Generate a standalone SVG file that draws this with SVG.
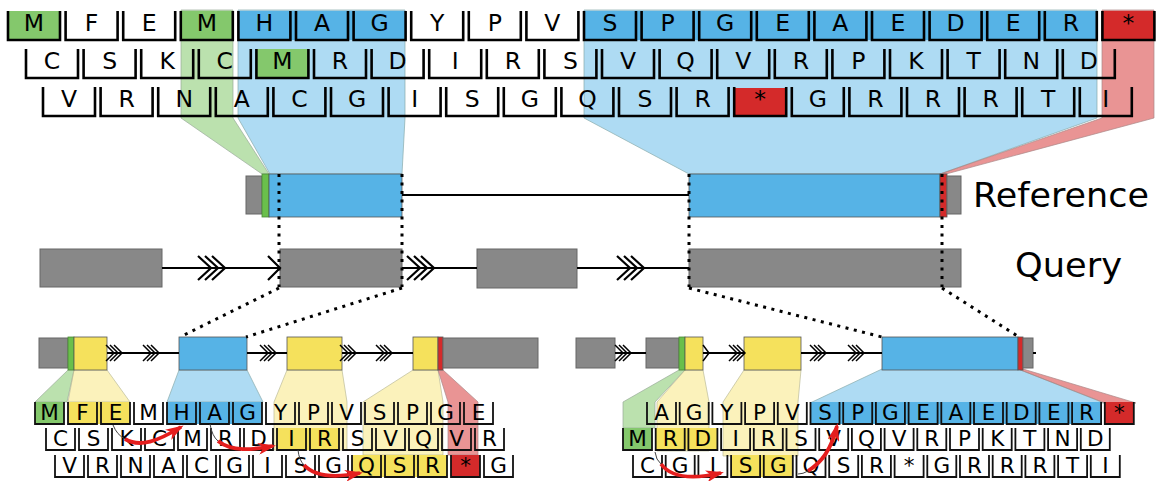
<svg xmlns="http://www.w3.org/2000/svg" xmlns:xlink="http://www.w3.org/1999/xlink" width="1163" height="481" viewBox="0 0 1163 481">
<style>
.t{font-family:"DejaVu Sans","Liberation Sans",sans-serif;font-size:23.5px;text-anchor:middle;fill:#000}
.s{font-family:"DejaVu Sans","Liberation Sans",sans-serif;font-size:21.5px;text-anchor:middle;fill:#000}
.lab{font-family:"DejaVu Sans","Liberation Sans",sans-serif;font-size:33px;fill:#000}
.bk{fill:none;stroke:#000;stroke-width:2.6}
.bs{fill:none;stroke:#111;stroke-width:1.8}
.bl{fill:#56b3e6}
.gn{fill:#84c86c}
.gs{fill:#6abf4b;stroke:#4a8a35;stroke-width:.8}
.rd{fill:#d42a2a}
.yl{fill:#f5e15c}
.gy{fill:#888;stroke:#666;stroke-width:1}
.box{stroke:#555;stroke-width:.8}
.ob{fill:#56b3e6;fill-opacity:.48;stroke:#8aa;stroke-width:.7}
.og{fill:#84c86c;fill-opacity:.55;stroke:#9a9;stroke-width:.7}
.or{fill:#d42a2a;fill-opacity:.5;stroke:#a88;stroke-width:.7}
.oy{fill:#f5e15c;fill-opacity:.42;stroke:#bb9;stroke-width:.7}
.ln{fill:none;stroke:#000;stroke-width:2.2}
.lns{fill:none;stroke:#000;stroke-width:1.8}
.ch{fill:none;stroke:#000;stroke-width:2.2}
.chs{fill:none;stroke:#000;stroke-width:1.5}
.dt{fill:none;stroke:#000;stroke-width:3;stroke-dasharray:3 5.5}
.ra{fill:none;stroke:#e41e1e;stroke-width:3.8;marker-end:url(#ah)}
.th{fill:none;stroke:#444;stroke-width:1}
</style>
<defs>
<marker id="ah" viewBox="0 0 18 12" refX="15" refY="6" markerWidth="18" markerHeight="12" markerUnits="userSpaceOnUse" orient="auto">
<path d="M0,0 L18,6 L0,12 L5,6 Z" fill="#e41e1e"/>
</marker>
<path id="c3" class="ch" d="M0,-12L13,0L0,12M7,-12L20,0L7,12M14,-12L27,0L14,12"/>
<path id="s3" class="chs" d="M0,-8L8,0L0,8M4,-8L12,0L4,8M8,-8L16,0L8,8"/>
</defs>

<g id="top-overlays">
<polygon class="og" points="181,10 233,10 233,118 269,174 262,174 181,118"/>
<polygon class="ob" points="238,10 405,10 405,118 402,174 270,174 238,118"/>
<polygon class="ob" points="584,10 1097,10 1097,118 940,174 689,174 584,118"/>
<polygon class="or" points="1102,10 1154,10 1154,118 946,174 940,174 1102,118"/>
</g>

<g id="top-row1">
<rect class="gn" x="8" y="11" width="52" height="29"/>
<rect class="gn" x="180.8" y="11" width="52" height="29"/>
<rect class="bl" x="238.4" y="11" width="167.2" height="29"/>
<rect class="bl" x="584" y="11" width="512.8" height="29"/>
<rect class="rd" x="1102.4" y="11" width="52" height="29"/>
<path class="bk" d="M8,11v29h52v-29M65.6,11v29h52v-29M123.2,11v29h52v-29M180.8,11v29h52v-29M238.4,11v29h52v-29M296,11v29h52v-29M353.6,11v29h52v-29M411.2,11v29h52v-29M468.8,11v29h52v-29M526.4,11v29h52v-29M584,11v29h52v-29M641.6,11v29h52v-29M699.2,11v29h52v-29M756.8,11v29h52v-29M814.4,11v29h52v-29M872,11v29h52v-29M929.6,11v29h52v-29M987.2,11v29h52v-29M1044.8,11v29h52v-29M1102.4,11v29h52v-29"/>
<text class="t" x="34" y="31">M</text><text class="t" x="91.6" y="31">F</text><text class="t" x="149.2" y="31">E</text><text class="t" x="206.8" y="31">M</text><text class="t" x="264.4" y="31">H</text><text class="t" x="322" y="31">A</text><text class="t" x="379.6" y="31">G</text><text class="t" x="437.2" y="31">Y</text><text class="t" x="494.8" y="31">P</text><text class="t" x="552.4" y="31">V</text><text class="t" x="610" y="31">S</text><text class="t" x="667.6" y="31">P</text><text class="t" x="725.2" y="31">G</text><text class="t" x="782.8" y="31">E</text><text class="t" x="840.4" y="31">A</text><text class="t" x="898" y="31">E</text><text class="t" x="955.6" y="31">D</text><text class="t" x="1013.2" y="31">E</text><text class="t" x="1070.8" y="31">R</text><text class="t" x="1128.4" y="31">*</text>
</g>

<g id="top-row2">
<rect class="gn" x="256.4" y="49" width="52" height="29"/>
<path class="bk" d="M26,49v29h52v-29M83.6,49v29h52v-29M141.2,49v29h52v-29M198.8,49v29h52v-29M256.4,49v29h52v-29M314,49v29h52v-29M371.6,49v29h52v-29M429.2,49v29h52v-29M486.8,49v29h52v-29M544.4,49v29h52v-29M602,49v29h52v-29M659.6,49v29h52v-29M717.2,49v29h52v-29M774.8,49v29h52v-29M832.4,49v29h52v-29M890,49v29h52v-29M947.6,49v29h52v-29M1005.2,49v29h52v-29M1062.8,49v29h52v-29"/>
<text class="t" x="52" y="69">C</text><text class="t" x="109.6" y="69">S</text><text class="t" x="167.2" y="69">K</text><text class="t" x="224.8" y="69">C</text><text class="t" x="282.4" y="69">M</text><text class="t" x="340" y="69">R</text><text class="t" x="397.6" y="69">D</text><text class="t" x="455.2" y="69">I</text><text class="t" x="512.8" y="69">R</text><text class="t" x="570.4" y="69">S</text><text class="t" x="628" y="69">V</text><text class="t" x="685.6" y="69">Q</text><text class="t" x="743.2" y="69">V</text><text class="t" x="800.8" y="69">R</text><text class="t" x="858.4" y="69">P</text><text class="t" x="916" y="69">K</text><text class="t" x="973.6" y="69">T</text><text class="t" x="1031.2" y="69">N</text><text class="t" x="1088.8" y="69">D</text>
</g>

<g id="top-row3">
<rect class="rd" x="734.2" y="88" width="52" height="27"/>
<path class="bk" d="M43,87v29h52v-29M100.6,87v29h52v-29M158.2,87v29h52v-29M215.8,87v29h52v-29M273.4,87v29h52v-29M331,87v29h52v-29M388.6,87v29h52v-29M446.2,87v29h52v-29M503.8,87v29h52v-29M561.4,87v29h52v-29M619,87v29h52v-29M676.6,87v29h52v-29M734.2,87v29h52v-29M791.8,87v29h52v-29M849.4,87v29h52v-29M907,87v29h52v-29M964.6,87v29h52v-29M1022.2,87v29h52v-29M1079.8,87v29h52v-29"/>
<text class="t" x="69" y="107">V</text><text class="t" x="126.6" y="107">R</text><text class="t" x="184.2" y="107">N</text><text class="t" x="241.8" y="107">A</text><text class="t" x="299.4" y="107">C</text><text class="t" x="357" y="107">G</text><text class="t" x="414.6" y="107">I</text><text class="t" x="472.2" y="107">S</text><text class="t" x="529.8" y="107">G</text><text class="t" x="587.4" y="107">Q</text><text class="t" x="645" y="107">S</text><text class="t" x="702.6" y="107">R</text><text class="t" x="760.2" y="107">*</text><text class="t" x="817.8" y="107">G</text><text class="t" x="875.4" y="107">R</text><text class="t" x="933" y="107">R</text><text class="t" x="990.6" y="107">R</text><text class="t" x="1048.2" y="107">T</text><text class="t" x="1105.8" y="107">I</text>
</g>

<g id="reference">
<rect class="gy" x="246" y="176" width="16" height="38"/>
<rect class="gs" x="262" y="174" width="7" height="43"/>
<rect class="bl box" x="269" y="174" width="133" height="43"/>
<rect class="bl box" x="689" y="174" width="251" height="43"/>
<rect class="rd box" x="940" y="174" width="7" height="43"/>
<rect class="gy" x="947" y="176" width="14" height="38"/>
<text class="lab" x="973" y="207" textLength="176" lengthAdjust="spacingAndGlyphs">Reference</text>
</g>

<g id="query">
<rect class="gy" x="40" y="249" width="122" height="38"/>
<rect class="gy" x="280" y="249" width="122" height="38"/>
<rect class="gy" x="477" y="249" width="100" height="39"/>
<rect class="gy" x="689" y="249" width="272" height="38"/>
<text class="lab" x="1015" y="277" textLength="107" lengthAdjust="spacingAndGlyphs">Query</text>
</g>

<g id="bottom-left-overlays">
<polygon class="og" points="68,370 74,370 67,402 35,402"/>
<polygon class="oy" points="74,370 107,370 130,402 68,402"/>
<polygon class="ob" points="179,370 247,370 263,402 167,402"/>
<polygon class="oy" points="287,370 342,370 347,402 347,450 274,450 274,402"/>
<polygon class="oy" points="413,370 438,370 443,402 443,455 363,455 363,402"/>
<polygon class="or" points="438,370 443,370 478,402 478,455 448,455 448,402"/>
</g>

<g id="bottom-left-gene">
<rect class="gy" x="39" y="338" width="29" height="30"/>
<rect class="gs" x="68" y="337" width="6" height="33"/>
<rect class="yl box" x="74" y="337" width="33" height="33"/>
<rect class="bl box" x="179" y="337" width="68" height="33"/>
<rect class="yl box" x="287" y="337" width="55" height="33"/>
<rect class="yl box" x="413" y="337" width="25" height="33"/>
<rect class="rd box" x="438" y="337" width="5" height="33"/>
<rect class="gy" x="443" y="338" width="95" height="30"/>
</g>

<g id="bottom-left-seq">
<rect class="gn" x="35" y="402" width="29" height="22"/>
<rect class="yl" x="68" y="402" width="62" height="22"/>
<rect class="bl" x="167" y="402" width="95" height="22"/>
<rect class="yl" x="277" y="428" width="62" height="22"/>
<rect class="yl" x="352" y="455" width="95" height="22"/>
<rect class="rd" x="451" y="455" width="29" height="22"/>
<path class="bs" d="M35,402v22h29v-22M68,402v22h29v-22M101,402v22h29v-22M134,402v22h29v-22M167,402v22h29v-22M200,402v22h29v-22M233,402v22h29v-22M266,402v22h29v-22M299,402v22h29v-22M332,402v22h29v-22M365,402v22h29v-22M398,402v22h29v-22M431,402v22h29v-22M464,402v22h29v-22"/>
<path class="bs" d="M46,428v22h29v-22M79,428v22h29v-22M112,428v22h29v-22M145,428v22h29v-22M178,428v22h29v-22M211,428v22h29v-22M244,428v22h29v-22M277,428v22h29v-22M310,428v22h29v-22M343,428v22h29v-22M376,428v22h29v-22M409,428v22h29v-22M442,428v22h29v-22M475,428v22h29v-22"/>
<path class="bs" d="M55,455v22h29v-22M88,455v22h29v-22M121,455v22h29v-22M154,455v22h29v-22M187,455v22h29v-22M220,455v22h29v-22M253,455v22h29v-22M286,455v22h29v-22M319,455v22h29v-22M352,455v22h29v-22M385,455v22h29v-22M418,455v22h29v-22M451,455v22h29v-22M484,455v22h29v-22"/>
<text class="s" x="49.5" y="420">M</text><text class="s" x="82.5" y="420">F</text><text class="s" x="115.5" y="420">E</text><text class="s" x="148.5" y="420">M</text><text class="s" x="181.5" y="420">H</text><text class="s" x="214.5" y="420">A</text><text class="s" x="247.5" y="420">G</text><text class="s" x="280.5" y="420">Y</text><text class="s" x="313.5" y="420">P</text><text class="s" x="346.5" y="420">V</text><text class="s" x="379.5" y="420">S</text><text class="s" x="412.5" y="420">P</text><text class="s" x="445.5" y="420">G</text><text class="s" x="478.5" y="420">E</text>
<text class="s" x="60.5" y="446">C</text><text class="s" x="93.5" y="446">S</text><text class="s" x="126.5" y="446">K</text><text class="s" x="159.5" y="446">C</text><text class="s" x="192.5" y="446">M</text><text class="s" x="225.5" y="446">R</text><text class="s" x="258.5" y="446">D</text><text class="s" x="291.5" y="446">I</text><text class="s" x="324.5" y="446">R</text><text class="s" x="357.5" y="446">S</text><text class="s" x="390.5" y="446">V</text><text class="s" x="423.5" y="446">Q</text><text class="s" x="456.5" y="446">V</text><text class="s" x="489.5" y="446">R</text>
<text class="s" x="69.5" y="473">V</text><text class="s" x="102.5" y="473">R</text><text class="s" x="135.5" y="473">N</text><text class="s" x="168.5" y="473">A</text><text class="s" x="201.5" y="473">C</text><text class="s" x="234.5" y="473">G</text><text class="s" x="267.5" y="473">I</text><text class="s" x="300.5" y="473">S</text><text class="s" x="333.5" y="473">G</text><text class="s" x="366.5" y="473">Q</text><text class="s" x="399.5" y="473">S</text><text class="s" x="432.5" y="473">R</text><text class="s" x="465.5" y="473">*</text><text class="s" x="498.5" y="473">G</text>
</g>

<g id="bottom-right-overlays">
<polygon class="og" points="679,370 685,370 655,402 655,428 623,428 623,402"/>
<polygon class="oy" points="685,370 703,370 709,402 709,451 657,451 657,402"/>
<polygon class="oy" points="744,370 801,370 798,402 798,456 723,456 723,402"/>
<polygon class="ob" points="882,369 1018,369 1104,403 810,403"/>
<polygon class="or" points="1018,369 1023,369 1136,403 1105,403"/>
</g>

<g id="bottom-right-gene">
<rect class="gy" x="576" y="338" width="39" height="30"/>
<rect class="gy" x="646" y="338" width="33" height="30"/>
<rect class="gs" x="679" y="337" width="6" height="33"/>
<rect class="yl box" x="685" y="337" width="18" height="33"/>
<rect class="yl box" x="744" y="337" width="57" height="33"/>
<rect class="bl box" x="882" y="337" width="136" height="33"/>
<rect class="rd box" x="1018" y="337" width="5" height="33"/>
<rect class="gy" x="1023" y="338" width="10" height="30"/>
</g>

<g id="bottom-right-seq">
<rect class="bl" x="810.5" y="402" width="290.6" height="22"/>
<rect class="rd" x="1104.8" y="402" width="29" height="22"/>
<rect class="gn" x="623" y="428" width="29" height="22"/>
<rect class="yl" x="655.7" y="428" width="61.7" height="22"/>
<rect class="yl" x="731.1" y="455" width="61.7" height="22"/>
<path class="bs" d="M647,402v22h29v-22M679.7,402v22h29v-22M712.4,402v22h29v-22M745.1,402v22h29v-22M777.8,402v22h29v-22M810.5,402v22h29v-22M843.2,402v22h29v-22M875.9,402v22h29v-22M908.6,402v22h29v-22M941.3,402v22h29v-22M974,402v22h29v-22M1006.7,402v22h29v-22M1039.4,402v22h29v-22M1072.1,402v22h29v-22M1104.8,402v22h29v-22"/>
<path class="bs" d="M623,428v22h29v-22M655.7,428v22h29v-22M688.4,428v22h29v-22M721.1,428v22h29v-22M753.8,428v22h29v-22M786.5,428v22h29v-22M819.2,428v22h29v-22M851.9,428v22h29v-22M884.6,428v22h29v-22M917.3,428v22h29v-22M950,428v22h29v-22M982.7,428v22h29v-22M1015.4,428v22h29v-22M1048.1,428v22h29v-22M1080.8,428v22h29v-22"/>
<path class="bs" d="M633,455v22h29v-22M665.7,455v22h29v-22M698.4,455v22h29v-22M731.1,455v22h29v-22M763.8,455v22h29v-22M796.5,455v22h29v-22M829.2,455v22h29v-22M861.9,455v22h29v-22M894.6,455v22h29v-22M927.3,455v22h29v-22M960,455v22h29v-22M992.7,455v22h29v-22M1025.4,455v22h29v-22M1058.1,455v22h29v-22M1090.8,455v22h29v-22"/>
<text class="s" x="661.5" y="420">A</text><text class="s" x="694.2" y="420">G</text><text class="s" x="726.9" y="420">Y</text><text class="s" x="759.6" y="420">P</text><text class="s" x="792.3" y="420">V</text><text class="s" x="825" y="420">S</text><text class="s" x="857.7" y="420">P</text><text class="s" x="890.4" y="420">G</text><text class="s" x="923.1" y="420">E</text><text class="s" x="955.8" y="420">A</text><text class="s" x="988.5" y="420">E</text><text class="s" x="1021.2" y="420">D</text><text class="s" x="1053.9" y="420">E</text><text class="s" x="1086.6" y="420">R</text><text class="s" x="1119.3" y="420">*</text>
<text class="s" x="637.5" y="446">M</text><text class="s" x="670.2" y="446">R</text><text class="s" x="702.9" y="446">D</text><text class="s" x="735.6" y="446">I</text><text class="s" x="768.3" y="446">R</text><text class="s" x="801" y="446">S</text><text class="s" x="833.7" y="446">V</text><text class="s" x="866.4" y="446">Q</text><text class="s" x="899.1" y="446">V</text><text class="s" x="931.8" y="446">R</text><text class="s" x="964.5" y="446">P</text><text class="s" x="997.2" y="446">K</text><text class="s" x="1029.9" y="446">T</text><text class="s" x="1062.6" y="446">N</text><text class="s" x="1095.3" y="446">D</text>
<text class="s" x="647.5" y="473">C</text><text class="s" x="680.2" y="473">G</text><text class="s" x="712.9" y="473">I</text><text class="s" x="745.6" y="473">S</text><text class="s" x="778.3" y="473">G</text><text class="s" x="811" y="473">Q</text><text class="s" x="843.7" y="473">S</text><text class="s" x="876.4" y="473">R</text><text class="s" x="909.1" y="473">*</text><text class="s" x="941.8" y="473">G</text><text class="s" x="974.5" y="473">R</text><text class="s" x="1007.2" y="473">R</text><text class="s" x="1039.9" y="473">R</text><text class="s" x="1072.6" y="473">T</text><text class="s" x="1105.3" y="473">I</text>
</g>

<g id="connectors">
<path class="ln" d="M402,195H689"/>
<path class="ln" d="M162,268H280M402,268H477M577,268H689"/>
<use xlink:href="#c3" href="#c3" x="198" y="268"/>
<use xlink:href="#c3" href="#c3" x="407" y="268"/>
<use xlink:href="#c3" href="#c3" x="617" y="268"/>
<path class="ch" d="M268,256L280,268L268,280"/>
<path class="lns" d="M107,353H179M247,353H287M342,353H413"/>
<path class="lns" d="M615,353H646M703,353H744M801,353H882M1033,353H1036"/>
<use xlink:href="#s3" href="#s3" x="106" y="353"/>
<use xlink:href="#s3" href="#s3" x="143" y="353"/>
<use xlink:href="#s3" href="#s3" x="260" y="353"/>
<use xlink:href="#s3" href="#s3" x="340" y="353"/>
<use xlink:href="#s3" href="#s3" x="376" y="353"/>
<use xlink:href="#s3" href="#s3" x="615" y="353"/>
<use xlink:href="#s3" href="#s3" x="729" y="353"/>
<use xlink:href="#s3" href="#s3" x="810" y="353"/>
<use xlink:href="#s3" href="#s3" x="848" y="353"/>
<path class="chs" d="M703,345L709,353L703,361"/>
<path class="dt" d="M279,174V287M402,174V287M689,174V287M942,174V287"/>
<path class="dt" d="M279,288L180,337M402,288L246,337M689,288L882,337M942,288L1019,337"/>
<path class="th" d="M113,425Q117,435 125,439"/>
<path class="ra" d="M125,439C140,448 158,441 181,427"/>
<path class="th" d="M210,424Q212,436 218,441"/>
<path class="ra" d="M218,441C232,452 252,450 273,446"/>
<path class="th" d="M298,450Q299,460 304,465"/>
<path class="ra" d="M304,465C315,477 335,478 360,473"/>
<path class="th" d="M655,452Q656,460 661,464"/>
<path class="ra" d="M661,464C672,479 695,479 721,473"/>
<path class="th" d="M798,474Q803,474 808,471"/>
<path class="ra" d="M808,471C822,462 831,450 837,426"/>
</g>
</svg>
